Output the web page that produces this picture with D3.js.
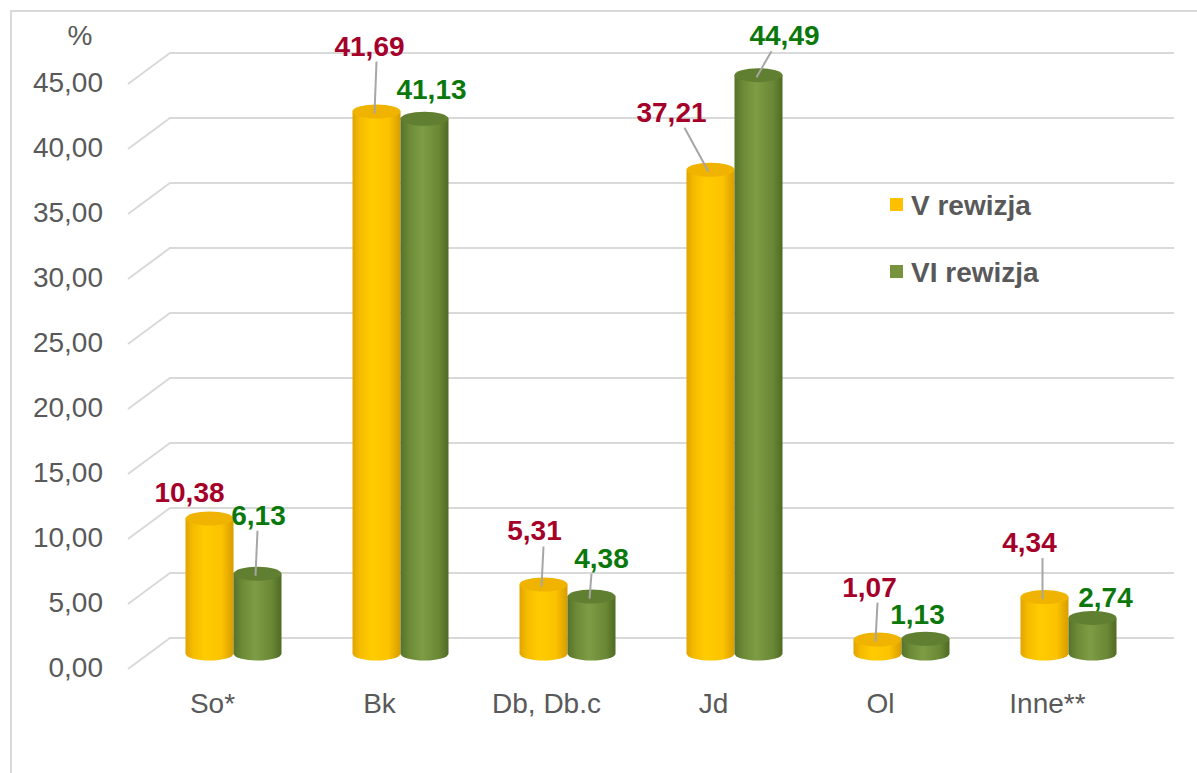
<!DOCTYPE html>
<html>
<head>
<meta charset="utf-8">
<script src="https://cdn.jsdelivr.net/npm/d3@7/dist/d3.min.js"></script>
<style>
  body { margin: 0; background: #fff; }
  text { font-family: "Liberation Sans", Arial, sans-serif; }
</style>
</head>
<body>
<div id="chart"></div>
<script>
// data
var categories = ["So*", "Bk", "Db, Db.c", "Jd", "Ol", "Inne**"];
var seriesNames = ["V rewizja", "VI rewizja"];
var rev5 = [10.38, 41.69, 5.31, 37.21, 1.07, 4.34];
var rev6 = [6.13, 41.13, 4.38, 44.49, 1.13, 2.74];
var yTicks = [0, 5, 10, 15, 20, 25, 30, 35, 40, 45];

// label placement (pixel offsets from top of each cylinder)
var labelOff5 = [[-20, -27], [-7, -66], [-9, -54], [-39, -58], [-8, -53], [-15, -55]];
var labelOff6 = [[1, -59], [7, -30], [10, -39], [26, -40], [-8, -25], [13, -21]];

var W = 1197, H = 773;
var depth = {dx: 42, dy: -31};   // back wall offset
var cylW = 48, ry = 7;

var svg = d3.select("#chart").append("svg")
  .attr("width", W)
  .attr("height", H);

// outer frame (runs off the right / bottom edges)
svg.append("path")
  .attr("d", "M11,773 L11,11 L1197,11")
  .attr("fill", "none")
  .attr("stroke", "#d9d9d9")
  .attr("stroke-width", 2);

// scales (front plane)
var x = d3.scaleBand().domain(categories).range([129, 1131]);
var y = d3.scaleLinear().domain([0, 45]).range([669, 84]);

var fmt = function(v) { return d3.format(".2f")(v).replace(".", ","); };

// gridlines: left wall diagonal + back wall
var grid = svg.append("g");
yTicks.forEach(function(t) {
  var yf = y(t);
  grid.append("path")
    .attr("d", "M128," + yf + " L" + (128 + depth.dx) + "," + (yf + depth.dy) + " L1174," + (yf + depth.dy))
    .attr("fill", "none")
    .attr("stroke", "#d9d9d9")
    .attr("stroke-width", 2);
  svg.append("text")
    .attr("x", 103)
    .attr("y", yf + 8)
    .attr("text-anchor", "end")
    .attr("fill", "#595959")
    .style("font-size", "28px")
    .text(fmt(t));
});

svg.append("text")
  .attr("x", 80).attr("y", 45)
  .attr("text-anchor", "middle")
  .attr("fill", "#595959")
  .style("font-size", "28px")
  .text("%");

// category labels
categories.forEach(function(c) {
  svg.append("text")
    .attr("x", x(c) + x.bandwidth() / 2)
    .attr("y", 713)
    .attr("text-anchor", "middle")
    .attr("fill", "#595959")
    .style("font-size", "28px")
    .text(c);
});

// gradients
var defs = svg.append("defs");
function grad(id, stops) {
  var g = defs.append("linearGradient").attr("id", id)
    .attr("x1", "0%").attr("x2", "100%").attr("y1", "0%").attr("y2", "0%");
  stops.forEach(function(s) {
    g.append("stop").attr("offset", s[0]).attr("stop-color", s[1]);
  });
}
grad("gYel", [["0%", "#e0a400"], ["15%", "#f5bb00"], ["40%", "#ffcc00"], ["75%", "#fbc300"], ["100%", "#d99c00"]]);
grad("gGrn", [["0%", "#56732a"], ["20%", "#6e8c38"], ["45%", "#7d9c44"], ["80%", "#6a8835"], ["100%", "#4f6a24"]]);

var series = [
  {name: seriesNames[0], values: rev5, off: labelOff5, fill: "url(#gYel)", top: "#f0b400", key: "#ffc000", labelColor: "#a5002a", shift: -cylW / 2},
  {name: seriesNames[1], values: rev6, off: labelOff6, fill: "url(#gGrn)", top: "#617f31", key: "#77933c", labelColor: "#0a780a", shift: cylW / 2}
];

// bars sit half way into the depth
var baseY = y(0) + depth.dy / 2;
var hScale = function(v) { return y(0) - y(v); };

var bars = svg.append("g");
var labels = svg.append("g");

categories.forEach(function(c, i) {
  series.forEach(function(s) {
    var v = s.values[i];
    var cx = x(c) + x.bandwidth() / 2 + depth.dx / 2 + s.shift;
    var top = baseY - hScale(v);
    var l = cx - cylW / 2, r = cx + cylW / 2;
    bars.append("path")
      .attr("d", "M" + l + "," + top + " L" + l + "," + baseY +
        " A" + (cylW / 2) + "," + ry + " 0 0 0 " + r + "," + baseY +
        " L" + r + "," + top + " Z")
      .attr("fill", s.fill);
    bars.append("ellipse")
      .attr("cx", cx).attr("cy", top)
      .attr("rx", cylW / 2).attr("ry", ry)
      .attr("fill", s.top);

    var lx = cx + s.off[i][0], ly = top + s.off[i][1];
    if (s.off[i][1] < -32) {
      var dxl = cx - lx;
      var sx = lx + Math.sign(dxl) * Math.min(Math.abs(dxl), 13);
      labels.append("line")
        .attr("x1", sx).attr("y1", ly + 16)
        .attr("x2", cx - 2).attr("y2", top + 2)
        .attr("stroke", "#a6a6a6")
        .attr("stroke-width", 2);
    }
    labels.append("text")
      .attr("x", lx).attr("y", ly + 10)
      .attr("text-anchor", "middle")
      .attr("fill", s.labelColor)
      .style("font-size", "28px")
      .style("font-weight", "bold")
      .text(fmt(v));
  });
});

// legend
var legend = svg.append("g");
series.forEach(function(s, k) {
  var ly = 205 + k * 67;
  legend.append("rect")
    .attr("x", 890).attr("y", ly - 7)
    .attr("width", 13).attr("height", 13)
    .attr("fill", s.key);
  legend.append("text")
    .attr("x", 911).attr("y", ly + 10)
    .attr("fill", "#595959")
    .style("font-size", "28px")
    .style("font-weight", "bold")
    .text(s.name);
});
</script>
</body>
</html>
